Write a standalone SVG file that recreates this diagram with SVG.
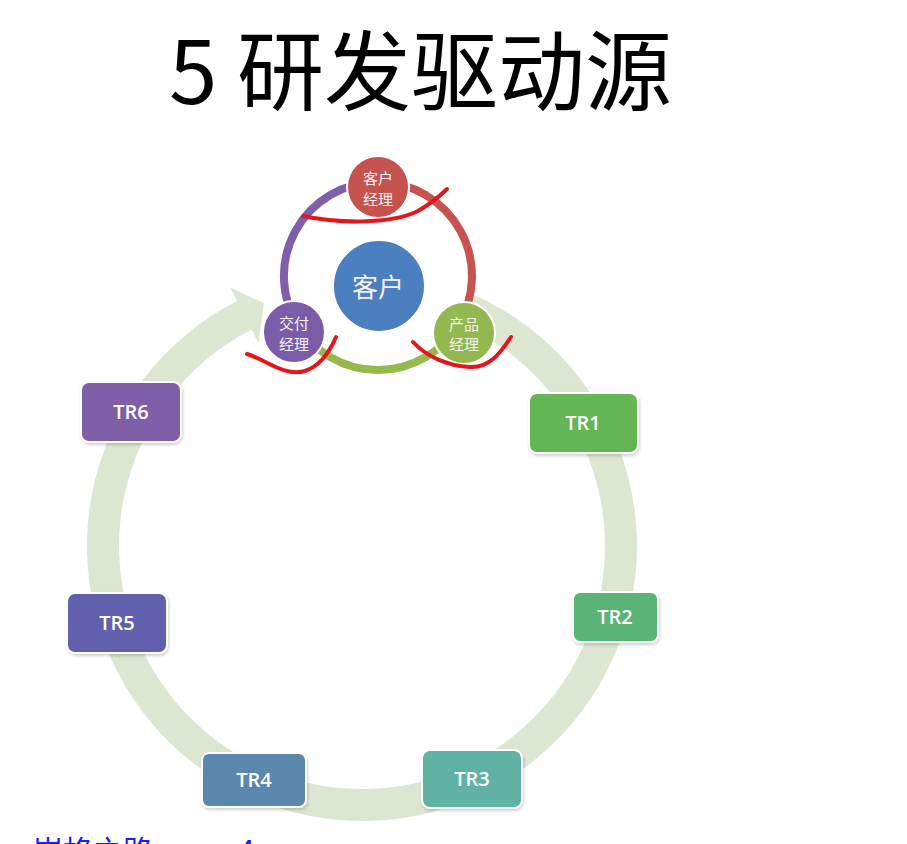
<svg xmlns="http://www.w3.org/2000/svg" width="907" height="844" viewBox="0 0 907 844">
<defs>
<style>
.title{font-family:"Noto Sans CJK SC","Noto Sans",sans-serif;font-size:87px;fill:#000}
.tr rect{stroke:#fff;stroke-width:2}
.tr text{font-family:"Open Sans","Liberation Sans",sans-serif;font-size:20px;font-weight:600;fill:#fff;text-anchor:middle;dominant-baseline:central}
.nd circle{stroke:#fff;stroke-width:2}
.nd text{font-family:"Noto Sans CJK SC",sans-serif;font-size:15px;fill:#f6f2f2;text-anchor:middle;dominant-baseline:central}
.ring{fill:none;stroke-width:8}
.mark{fill:none;stroke:#e5161b;stroke-width:4;stroke-linecap:round;stroke-linejoin:round}
</style>
<filter id="sh" x="-10%" y="-10%" width="125%" height="130%">
<feDropShadow dx="1" dy="2" stdDeviation="1.5" flood-color="#000" flood-opacity="0.18"/>
</filter>
</defs>
<rect width="907" height="844" fill="#fff"/>
<text class="title" x="169" y="104">5<tspan x="237">研发驱动源</tspan></text>

<g id="connectors">
<path id="cycle-arrow" fill="#dde6d1" d="M473.8 294.8 A275 275 0 1 1 237.1 301 L230.3 287.6 L263.9 303.1 L258.5 342.9 L251.7 329.5 A243 243 0 1 0 460.8 324 Z"/>
<path class="ring" stroke="#c65350" d="M378 182 A94 94 0 0 1 457.2 326.6"/>
<path class="ring" stroke="#95b94c" d="M457.2 326.6 A94 94 0 0 1 299.3 327.5"/>
<path class="ring" stroke="#7f5fa8" d="M299.3 327.5 A94 94 0 0 1 378 182"/>
</g>

<g id="tr1" class="tr"><rect x="529" y="393" width="109" height="60" rx="8" fill="#64b556" filter="url(#sh)"/><text x="583" y="422">TR1</text></g>
<g id="tr2" class="tr"><rect x="573" y="592" width="85" height="50" rx="7" fill="#5ab477" filter="url(#sh)"/><text x="615" y="616">TR2</text></g>
<g id="tr3" class="tr"><rect x="422" y="750" width="100" height="58" rx="8" fill="#5eb2a4" filter="url(#sh)"/><text x="472" y="778">TR3</text></g>
<g id="tr4" class="tr"><rect x="202" y="753" width="104" height="54" rx="7" fill="#5b87ad" filter="url(#sh)"/><text x="254" y="779">TR4</text></g>
<g id="tr5" class="tr"><rect x="67" y="593" width="100" height="60" rx="8" fill="#6061ad" filter="url(#sh)"/><text x="117" y="622">TR5</text></g>
<g id="tr6" class="tr"><rect x="81" y="382" width="100" height="60" rx="8" fill="#7f5fa8" filter="url(#sh)"/><text x="131" y="411">TR6</text></g>

<g id="kehu" class="nd"><circle cx="379" cy="286" r="46" fill="#4b7fc0"/><text x="378" y="285" style="font-size:26px">客户</text></g>
<g id="kehu-jingli" class="nd"><circle cx="378" cy="187" r="31" fill="#c4524f"/><text x="378" y="177">客户</text><text x="378" y="198">经理</text></g>
<g id="jiaofu-jingli" class="nd"><circle cx="294" cy="332" r="31" fill="#7a5ca8"/><text x="294" y="322">交付</text><text x="294" y="343">经理</text></g>
<g id="chanpin-jingli" class="nd"><circle cx="464" cy="333" r="31" fill="#93b84f"/><text x="464" y="323">产品</text><text x="464" y="343">经理</text></g>

<g id="annotations">
<path class="mark" d="M303 216 C335 223 390 225 418 211 C430 204 439 197 447 189"/>
<path class="mark" d="M247 354 C265 359 284 377 305 371 C320 366 330 351 336 337"/>
<path class="mark" d="M413 342 C426 356 447 366 470 367 C490 368 501 352 511 337"/>
</g>

<text x="33" y="862" style="font-family:'Noto Sans CJK SC',sans-serif;font-size:30px;fill:#1a1aff">岗格之路<tspan x="238">4</tspan></text>
</svg>
